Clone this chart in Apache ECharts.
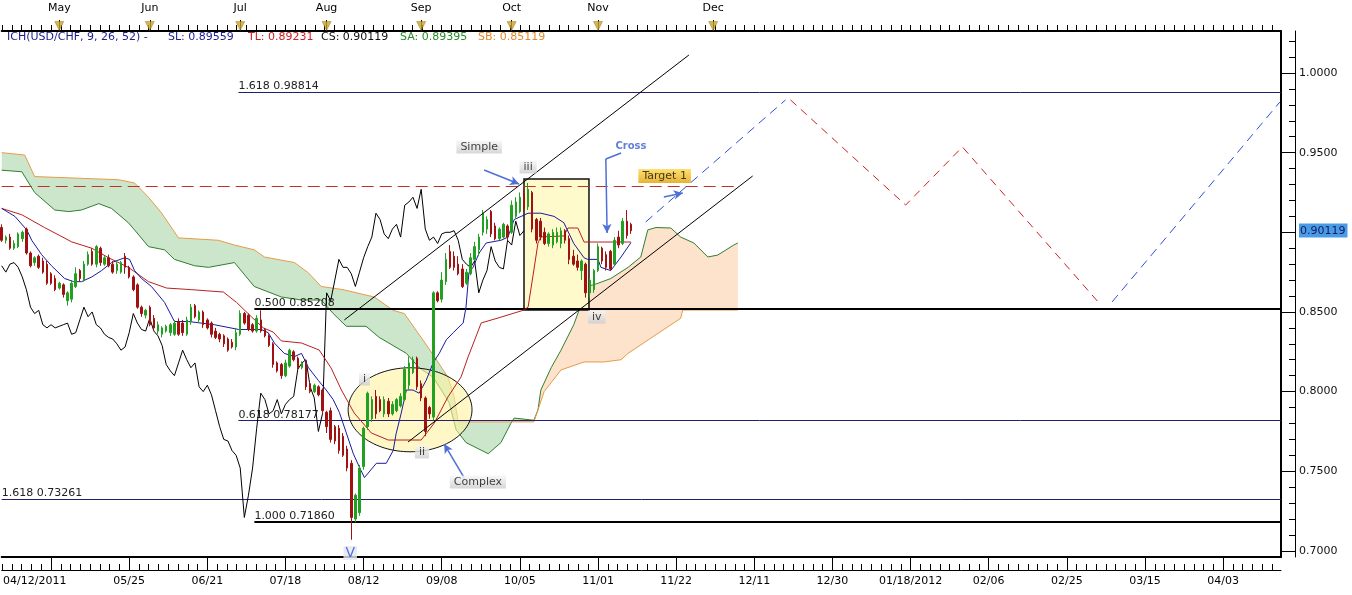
<!DOCTYPE html>
<html>
<head>
<meta charset="utf-8">
<script src="https://cdn.jsdelivr.net/npm/echarts@6/dist/echarts.min.js"></script>
<style>html,body{margin:0;padding:0;background:#fff}#c{width:1352px;height:595px}</style>
</head>
<body>
<div id="c"></div>
<script>
// ---------- DATA (x = bar index, 0 = 04/12/2011; y = USD/CHF price) ----------
// OHLC bars: [open, close, low, high]
const ohlc = [
[.903,.895,.894,.905],[.895,.897,.893,.898],[.897,.890,.889,.899],[.890,.893,.889,.895],[.891,.899,.890,.900],
[.896,.900,.894,.901],[.902,.887,.886,.903],[.887,.879,.878,.888],[.881,.884,.879,.885],[.885,.878,.877,.886],
[.882,.875,.874,.884],[.880,.868,.867,.882],[.874,.868,.867,.875],[.871,.864,.863,.873],[.865,.868,.864,.869],
[.867,.861,.859,.868],[.857,.862,.854,.863],[.858,.868,.856,.870],[.866,.874,.865,.878],[.876,.871,.869,.877],
[.870,.880,.869,.882],[.880,.886,.879,.888],[.888,.880,.879,.890],[.880,.891,.878,.892],[.890,.881,.879,.891],
[.880,.884,.879,.885],[.884,.879,.878,.886],[.880,.875,.874,.882],[.876,.880,.874,.882],[.875,.881,.874,.882],
[.885,.878,.874,.887],[.878,.872,.871,.879],[.872,.864,.863,.873],[.867,.853,.852,.868],[.853,.849,.847,.854],
[.848,.851,.846,.852],[.853,.842,.841,.854],[.846,.840,.838,.848],[.838,.842,.836,.844],[.836,.840,.834,.841],
[.838,.841,.837,.842],[.837,.842,.835,.843],[.836,.843,.835,.845],[.844,.836,.835,.846],[.843,.837,.835,.845],
[.836,.845,.835,.847],[.844,.853,.842,.855],[.854,.847,.846,.855],[.845,.850,.843,.851],[.850,.842,.840,.851],
[.845,.840,.839,.846],[.843,.836,.834,.844],[.838,.834,.833,.840],[.836,.833,.831,.837],[.835,.830,.828,.836],
[.833,.826,.825,.834],[.831,.828,.827,.833],[.828,.837,.826,.840],[.836,.849,.835,.851],[.849,.843,.842,.850],
[.848,.839,.838,.849],[.842,.838,.837,.843],[.838,.846,.837,.848],[.845,.838,.837,.851],[.839,.835,.834,.840],
[.835,.829,.828,.836],[.830,.817,.815,.831],[.818,.813,.812,.819],[.817,.810,.808,.818],[.810,.818,.809,.820],
[.816,.826,.815,.827],[.825,.820,.819,.826],[.821,.815,.814,.822],[.815,.818,.814,.819],[.818,.803,.801,.819],
[.805,.800,.799,.806],[.800,.804,.799,.805],[.803,.798,.797,.804],[.801,.788,.786,.802],[.787,.778,.774,.788],
[.788,.770,.768,.790],[.778,.769,.767,.779],[.777,.763,.761,.779],[.772,.760,.759,.774],[.764,.752,.750,.766],
[.755,.721,.707,.757],[.720,.735,.718,.736],[.724,.752,.722,.754],[.753,.777,.751,.778],[.778,.799,.776,.800],
[.783,.795,.781,.797],[.797,.786,.783,.801],[.795,.788,.787,.797],[.786,.795,.784,.797],[.794,.786,.784,.796],
[.786,.792,.785,.794],[.788,.795,.787,.796],[.791,.797,.790,.799],[.795,.814,.794,.816],[.804,.818,.801,.822],
[.812,.820,.811,.822],[.821,.803,.801,.822],[.805,.796,.794,.807],[.796,.775,.772,.797],[.790,.786,.783,.791],
[.784,.862,.782,.863],[.862,.857,.856,.863],[.858,.870,.856,.875],[.869,.883,.867,.887],[.888,.878,.877,.892],
[.885,.878,.876,.888],[.880,.874,.873,.885],[.877,.866,.865,.880],[.868,.875,.867,.877],[.874,.884,.873,.887],
[.883,.891,.882,.894],[.889,.897,.885,.899],[.900,.912,.898,.914],[.902,.908,.899,.910],[.913,.899,.897,.914],
[.904,.896,.895,.906],[.896,.902,.895,.903],[.897,.905,.896,.906],[.904,.897,.895,.905],[.900,.917,.899,.920],
[.910,.919,.909,.922],[.913,.922,.912,.925],[.924,.915,.913,.927],[.916,.927,.914,.931],[.925,.902,.900,.926],
[.908,.895,.893,.909],[.907,.897,.895,.909],[.900,.893,.892,.903],[.893,.899,.891,.900],[.892,.900,.890,.902],
[.894,.900,.893,.903],[.893,.901,.890,.903],[.901,.895,.893,.902],[.896,.883,.880,.898],[.885,.880,.879,.889],
[.882,.878,.876,.886],[.876,.882,.870,.883],[.880,.862,.859,.881],[.862,.870,.859,.871],[.864,.876,.862,.877],
[.876,.891,.875,.893],[.890,.882,.880,.891],[.886,.878,.876,.888],[.888,.877,.876,.889],[.880,.895,.879,.897],
[.897,.892,.890,.901],[.893,.907,.892,.909],[.907,.898,.896,.914],[.905,.901,.899,.906]
];
const CHIKOU_SHIFT = 26;
// SL (blue) and TL (red) lines, read as [index, price] vertices
const slLine = [[0,.915],[3.2,.910],[6.1,.9015],[7.3,.895],[9.7,.886],[12.1,.879],[15.3,.871],[17.5,.869],[19.4,.869],
[21.9,.872],[24.3,.876],[26.7,.881],[29.9,.884],[31.1,.883],[32.3,.876],[34,.871],[36.4,.866],[39.6,.856],[42,.844],
[45.4,.844],[51.7,.842],[57.6,.839],[63.1,.839],[64.8,.837],[66.3,.8305],[68.7,.824],[71.2,.822],[72.9,.824],[74.6,.815],
[77,.807],[78.9,.801],[80.6,.795],[82.1,.787],[83.8,.774],[85.5,.761],[86.9,.753],[88.2,.746],[91.1,.755],[93.5,.755],
[95.2,.763],[95.9,.7735],[97.1,.786],[98.4,.801],[100,.801],[101.5,.799],[103.2,.807],[104.9,.818],[106.4,.824],
[108.1,.8325],[109.8,.837],[111.2,.8406],[112.2,.843],[112.9,.853],[113.6,.8745],[114.6,.878],[116.1,.887],[117.8,.8933],
[121.4,.895],[123.1,.897],[124.6,.908],[128,.912],[131.1,.912],[134.3,.910],[136.7,.906],[139.1,.893],[141.6,.884],
[142.5,.883],[145,.883],[145.7,.878],[148.1,.876],[150.6,.8845],[153,.8935]];
const tlLine = [[0,.915],[4.9,.911],[10.4,.903],[14.1,.898],[17,.894],[21.9,.890],[26,.884],[30.8,.878],[35.7,.869],
[40.1,.865],[46.1,.864],[53.9,.8625],[57.1,.856],[60.7,.847],[63.6,.840],[66,.8374],[68,.8318],[72.9,.8305],[77.2,.8261],
[80.1,.8148],[82.6,.801],[85.7,.7866],[89.9,.774],[94,.7696],[102,.7696],[105.2,.7803],[108.5,.7966],[111.7,.8092],
[113.4,.8217],[116.6,.8431],[120.7,.8462],[127,.8512],[128,.8531],[129.4,.8763],[130.4,.8933],[131.1,.8971],
[136.7,.8977],[137.7,.9027],[140.1,.9027],[141.6,.8939],[153,.8939]];
// Senkou spans (shifted 26 forward)
const senkouA = [[0,.939],[4.9,.938],[8,.925],[12.9,.914],[16.3,.913],[19.4,.914],[23.6,.918],[26.7,.915],[30.8,.906],
[32.3,.9015],[35.7,.891],[39.6,.889],[42,.883],[46.9,.879],[50.3,.878],[56.6,.881],[61.4,.866],[68,.8594],[72.9,.8575],
[77.7,.8575],[80.6,.849],[83.8,.841],[88.6,.841],[91.8,.834],[98.4,.824],[101.5,.815],[104.9,.809],[106.9,.801],
[108.8,.793],[110.5,.776],[112.9,.768],[118.3,.761],[121.4,.768],[123.8,.780],[124.6,.7834],[129.4,.782],[130.4,.7885],
[131.1,.801],[133.6,.815],[136,.826],[139.1,.842],[142.5,.866],[145,.868],[148.1,.871],[152.3,.878],[155.4,.8845],
[157.1,.9015],[159.1,.903],[162.7,.9027],[165.1,.897],[168.3,.8933],[171.7,.8845],[174.1,.8857],[178,.892],[179,.8933]];
const senkouB = [[0,.950],[5.6,.9485],[8,.935],[28.4,.933],[32.3,.931],[35.7,.922],[38.9,.912],[43,.8965],[52.7,.895],
[56.6,.892],[61.4,.889],[63.9,.8845],[71.2,.881],[74.6,.8745],[77.7,.866],[83,.864],[90.6,.8594],[95.2,.851],[97.9,.849],
[102,.834],[105.2,.822],[108.5,.809],[110,.797],[111,.781],[129.4,.781],[130.4,.7885],[131.9,.800],[136,.8136],
[141.6,.8186],[146.4,.8186],[150.6,.820],[152.3,.824],[165.1,.846],[165.6,.8512],[179,.8512]];
const CLOUD_TWIST = 130.4;
// Fibonacci levels: [start index, price, text]
const fibLevels = [[57.55,0.98814,'1.618 0.98814'],[61.44,0.85208,'0.500 0.85208'],[57.55,0.78177,'0.618 0.78177'],
[0,0.73261,'1.618 0.73261'],[61.44,0.71860,'1.000 0.71860']];
const targetLevel = [[0,0.9287],[179.2,0.9287]];
const channelUpper = [[83.3,0.84495],[167.1,1.0113]];
const channelLower = [[98.8,0.76836],[182.6,0.93535]];
const projBlue1 = [[156.6,0.9065],[190.6,0.9831]];
const projRed = [[191.8,0.9831],[219.8,0.9171],[233.6,0.9536],[266.6,0.8563]];
const projBlue2 = [[270,0.8563],[310.8,0.9818]];
const simpleBox = [[127.0,0.9335],[142.8,0.8512]];
const complexEllipse = {center:[99.3,0.7886], radii:[15.06,0.02637]};
// arrows: list of segments [[from],[to],hasHead]
const arrows = [[[117.3,.9391],[125.8,.9303],1],[[150.6,.9498],[146.9,.9460],0],[[146.9,.9460],[147.2,.8996],1],
[[112.4,.7461],[107.6,.7671],1],[[161.0,.9221],[165.6,.9247],1]];
const annotations = [['Simple',116.1,.9535],['iii',128.0,.9410],['iv',144.7,.8468],['i',88.2,.8079],['ii',102.2,.7621],
['Complex',115.8,.7432],['Target 1',161.2,.9353],['Cross',153.0,.9542],['V',84.75,.6987]];
const annotationKinds = ['tag','tag','tag','tag','tag','tag','target','cross','v'];
// axis labels
const bottomLabels = [[0,'04/12/2011'],[31,'05/25'],[50,'06/21'],[69,'07/18'],[88,'08/12'],[107,'09/08'],[126,'10/05'],
[145,'11/01'],[164,'11/22'],[183,'12/11'],[202,'12/30'],[221,'01/18/2012'],[240,'02/06'],[259,'02/25'],[278,'03/15'],[297,'04/03']];
const bottomMajorTicks = [12,31,50,69,88,107,126,145,164,183,202,221,240,259,278,297];
const monthLabels = [[14,'May'],[36,'Jun'],[58,'Jul'],[79,'Aug'],[102,'Sep'],[124,'Oct'],[145,'Nov'],[173,'Dec']];
const yLabelValues = [0.70,0.75,0.80,0.85,0.90119,0.95,1.00];
const yMajorTicks = [0.70,0.75,0.80,0.85,0.90,0.95,1.00];
const LAST_CLOSE = 0.90119;
const titleParts = ['ICH(USD/CHF, 9, 26, 52) -','SL: 0.89559','TL: 0.89231','CS: 0.90119','SA: 0.89395','SB: 0.85119'];

// ---------- VIEW ----------
const X_MIN = 0, X_MAX = 311.07, Y_MIN = 0.69617, Y_MAX = 1.02637;
const FONT = 'DejaVu Sans';
const bottomMinorTicks = [];
for (let v = 12 - 19; v <= X_MAX; v += 19 / 8) if (v >= 0) bottomMinorTicks.push(+v.toFixed(3));
const yMinorTicks = [];
for (let k = 70; k <= 102; k++) yMinorTicks.push(k / 100);

const candleData = ohlc.map((d, i) => [i, d[0], d[1], d[2], d[3]]);
const chikou = ohlc.slice(CHIKOU_SHIFT).map((d, i) => [i, d[1]]);
const greenPoly = senkouB.filter(p => p[0] <= CLOUD_TWIST).concat(senkouA.filter(p => p[0] <= CLOUD_TWIST).reverse());
const peachPoly = senkouA.filter(p => p[0] >= CLOUD_TWIST).concat(senkouB.filter(p => p[0] >= CLOUD_TWIST).reverse());

const titleColors = ['#1c1c8a','#1c1c9a','#cc2020','#111111','#2a8a2a','#e08a30'];
const titleWidths = [161, 80, 73, 79, 78, 80];
const titleRich = {};
titleParts.forEach((t, k) => { titleRich['t' + k] = {color: titleColors[k], fontSize: 11, fontFamily: FONT, width: titleWidths[k]}; });
const titleText = titleParts.map((t, k) => '{t' + k + '|' + t + '}').join('');

const tagBg = {type:'linear', x:0, y:0, x2:0, y2:1, colorStops:[{offset:0,color:'#f6f6f6'},{offset:1,color:'#cdcdcd'}]};
const goldBg = {type:'linear', x:0, y:0, x2:0, y2:1, colorStops:[{offset:0,color:'#ffd84a'},{offset:1,color:'#e0a000'}]};
const kindStyle = {
  tag: {backgroundColor: tagBg, color:'#111', fontSize:11, padding:[1,4,0,4], lineHeight:12},
  target: {backgroundColor: goldBg, color:'#111', fontSize:11, padding:[1,4,1,4], lineHeight:12},
  cross: {color:'#3a5fd0', fontSize:10, fontWeight:'bold'},
  v: {color:'#2a50d0', fontSize:14, backgroundColor:'#e4e8f0', padding:[0,2,0,2], lineHeight:14}
};
const fibStyles = [
  {color:'#20206e', width:1, type:'solid'}, {color:'#000', width:2, type:'solid'}, {color:'#20206e', width:1, type:'solid'},
  {color:'#20206e', width:1, type:'solid'}, {color:'#000', width:2, type:'solid'}
];

const chart = echarts.init(document.getElementById('c'), null, {renderer:'canvas'});
const xBase = {type:'value', min:X_MIN, max:X_MAX, splitLine:{show:false}};
const yBase = {type:'value', min:Y_MIN, max:Y_MAX, splitLine:{show:false}};
const findLabel = (arr, v) => { const f = arr.find(d => Math.abs(d[0] - v) < 1e-6); return f ? f[1] : ''; };
const frameLine = {show:true, onZero:false, lineStyle:{color:'#000', width:2}};

const option = {
  animation: false,
  backgroundColor: '#fff',
  textStyle: {fontFamily: FONT},
  title: {left: 7, top: 32, padding: 0, text: titleText, textStyle: {fontSize: 11, fontWeight: 'normal', fontFamily: FONT, rich: titleRich}},
  grid: {left: 0, right: 71, top: 31, bottom: 38, show: false},
  xAxis: [
    Object.assign({}, xBase, {position:'bottom', offset:13,
      axisLine:{show:true, onZero:false, lineStyle:{color:'#000', width:1}},
      axisTick:{show:true, inside:true, length:13, customValues:bottomMajorTicks, lineStyle:{color:'#000'}},
      axisLabel:{show:true, customValues:bottomLabels.map(d => d[0]), hideOverlap:false, margin:6, color:'#000', fontSize:11, fontFamily:FONT,
        formatter: v => v === 0 ? '{first|' + findLabel(bottomLabels, v) + '}' : findLabel(bottomLabels, v),
        rich:{first:{padding:[0,0,0,66], color:'#000', fontSize:11, fontFamily:FONT}}}}),
    Object.assign({}, xBase, {position:'bottom', offset:13, axisLine:{show:false, onZero:false},
      axisTick:{show:true, inside:true, length:6, customValues:bottomMinorTicks, lineStyle:{color:'#000'}}, axisLabel:{show:false}}),
    Object.assign({}, xBase, {position:'top', offset:0, axisLine:{show:false, onZero:false},
      axisTick:{show:true, inside:false, length:11, customValues:monthLabels.map(d => d[0]), lineStyle:{color:'#000'}},
      axisLabel:{show:true, customValues:monthLabels.map(d => d[0]), hideOverlap:false, margin:17, color:'#000', fontSize:11, fontFamily:FONT,
        formatter: v => findLabel(monthLabels, v)}}),
    Object.assign({}, xBase, {position:'top', offset:0, axisLine:frameLine,
      axisTick:{show:true, inside:false, length:6, customValues:bottomMinorTicks, lineStyle:{color:'#000'}}, axisLabel:{show:false}}),
    Object.assign({}, xBase, {position:'bottom', offset:0, axisLine:frameLine, axisTick:{show:false}, axisLabel:{show:false}})
  ],
  yAxis: [
    Object.assign({}, yBase, {position:'right', offset:14,
      axisLine:{show:true, onZero:false, lineStyle:{color:'#000', width:1}},
      axisTick:{show:true, inside:true, length:13, customValues:yMajorTicks, lineStyle:{color:'#000'}},
      axisLabel:{show:true, customValues:yLabelValues, hideOverlap:false, margin:4, color:'#111', fontSize:11, fontFamily:FONT,
        formatter: v => Math.abs(v - LAST_CLOSE) < 1e-9 ? '{hl|' + v.toFixed(5) + '}' : v.toFixed(4),
        rich:{hl:{backgroundColor:'#4a9be6', color:'#101c60', padding:[2,2,1,1], fontSize:11, fontFamily:FONT}}}}),
    Object.assign({}, yBase, {position:'right', offset:14, axisLine:{show:false, onZero:false},
      axisTick:{show:true, inside:true, length:6, customValues:yMinorTicks, lineStyle:{color:'#000'}}, axisLabel:{show:false}}),
    Object.assign({}, yBase, {position:'right', offset:0, axisLine:frameLine, axisTick:{show:false}, axisLabel:{show:false}})
  ],
  series: [
    {name:'cloud', type:'custom', silent:true, z:1, data:[[0, 0.9],[1, 0.9]],
      renderItem: (params, api) => {
        const poly = params.dataIndex === 0 ? greenPoly : peachPoly;
        return {type:'polygon', shape:{points: poly.map(p => api.coord(p))},
          style:{fill: params.dataIndex === 0 ? '#cce6cc' : '#fde2cc'}};
      }},
    {name:'SA', type:'line', data:senkouA, symbol:'none', z:2, lineStyle:{color:'#2f7f2f', width:1}},
    {name:'SB', type:'line', data:senkouB, symbol:'none', z:2, lineStyle:{color:'#e89a48', width:1}},
    {name:'ellipse', type:'custom', silent:true, z:3, data:[complexEllipse.center],
      renderItem: (params, api) => {
        const c = api.coord(complexEllipse.center);
        const rx = api.size([complexEllipse.radii[0], 0])[0];
        const ry = api.size([0, complexEllipse.radii[1]])[1];
        const pts = [];
        for (let k = 0; k < 120; k++) { const t = k / 120 * Math.PI * 2; pts.push([c[0] + rx * Math.cos(t), c[1] + ry * Math.sin(t)]); }
        return {type:'polygon', shape:{points:pts}, style:{fill:'rgba(255,244,160,0.6)', stroke:'#111', lineWidth:1}};
      }},
    {name:'box', type:'custom', silent:true, z:3, data:[simpleBox[0]],
      renderItem: (params, api) => {
        const a = api.coord(simpleBox[0]), b = api.coord(simpleBox[1]);
        return {type:'rect', shape:{x:a[0], y:a[1], width:b[0] - a[0], height:b[1] - a[1]}, style:{fill:'#fffacb', stroke:'#111', lineWidth:1.5}};
      }},
    {name:'levels', type:'line', data:[], z:4, silent:true,
      markLine:{symbol:'none', silent:true, animation:false, label:{show:false}, lineStyle:{type:'solid'},
        data: fibLevels.map((f, k) => [
          {coord:[f[0], f[1]], lineStyle:fibStyles[k],
            label:{show:true, position:'insideStartTop', distance:[0, 0], formatter:f[2], color:'#222', fontSize:11, fontFamily:FONT}},
          {coord:[X_MAX, f[1]]}
        ]).concat([[{coord:targetLevel[0], lineStyle:{color:'#c0302a', width:1, type:[12,6]}}, {coord:targetLevel[1]}]])}},
    {name:'CS', type:'line', data:chikou, symbol:'none', z:5, lineStyle:{color:'#000', width:1}},
    {name:'TL', type:'line', data:tlLine, symbol:'none', z:5, lineStyle:{color:'#b82020', width:1}},
    {name:'SL', type:'line', data:slLine, symbol:'none', z:5, lineStyle:{color:'#1a1aa0', width:1}},
    {name:'USD/CHF', type:'candlestick', data:candleData, encode:{x:0, y:[1,2,3,4]}, barWidth:2, z:6,
      itemStyle:{color:'#22a022', color0:'#a01212', borderColor:'#22a022', borderColor0:'#a01212', borderWidth:1}},
    {name:'ch1', type:'line', data:channelUpper, symbol:'none', z:7, lineStyle:{color:'#000', width:1}},
    {name:'ch2', type:'line', data:channelLower, symbol:'none', z:7, lineStyle:{color:'#000', width:1}},
    {name:'p1', type:'line', data:projBlue1, symbol:'none', z:7, lineStyle:{color:'#2f50d8', width:1, type:[9,6]}},
    {name:'p2', type:'line', data:projRed, symbol:'none', z:7, lineStyle:{color:'#d02020', width:1, type:[8,6]}},
    {name:'p3', type:'line', data:projBlue2, symbol:'none', z:7, lineStyle:{color:'#2f50d8', width:1, type:[9,6]}},
    {name:'arrows', type:'line', data:[], z:8, silent:true,
      markLine:{symbol:['none','arrow'], symbolSize:[7,9], silent:true, animation:false, label:{show:false},
        lineStyle:{color:'#4f6fd8', width:1.5, type:'solid'},
        data: arrows.map(a => [{coord:a[0], symbol:'none'}, {coord:a[1], symbol: a[2] ? 'arrow' : 'none'}])}},
    {name:'labels', type:'scatter', symbolSize:0, z:9, silent:true,
      data: annotations.map((a, k) => ({value:[a[1], a[2]],
        label:Object.assign({show:true, position:'inside', formatter:a[0], fontFamily:FONT}, kindStyle[annotationKinds[k]])}))},
    {name:'months', type:'scatter', z:10, silent:true, clip:false, symbol:'triangle', symbolRotate:180, symbolSize:[9,9], symbolOffset:[0,-5],
      itemStyle:{color:'#c9a227', borderColor:'#8a6a12', borderWidth:0.5},
      data: monthLabels.map(m => [m[0], Y_MAX])}
  ]
};
chart.setOption(option);
</script>
</body>
</html>
